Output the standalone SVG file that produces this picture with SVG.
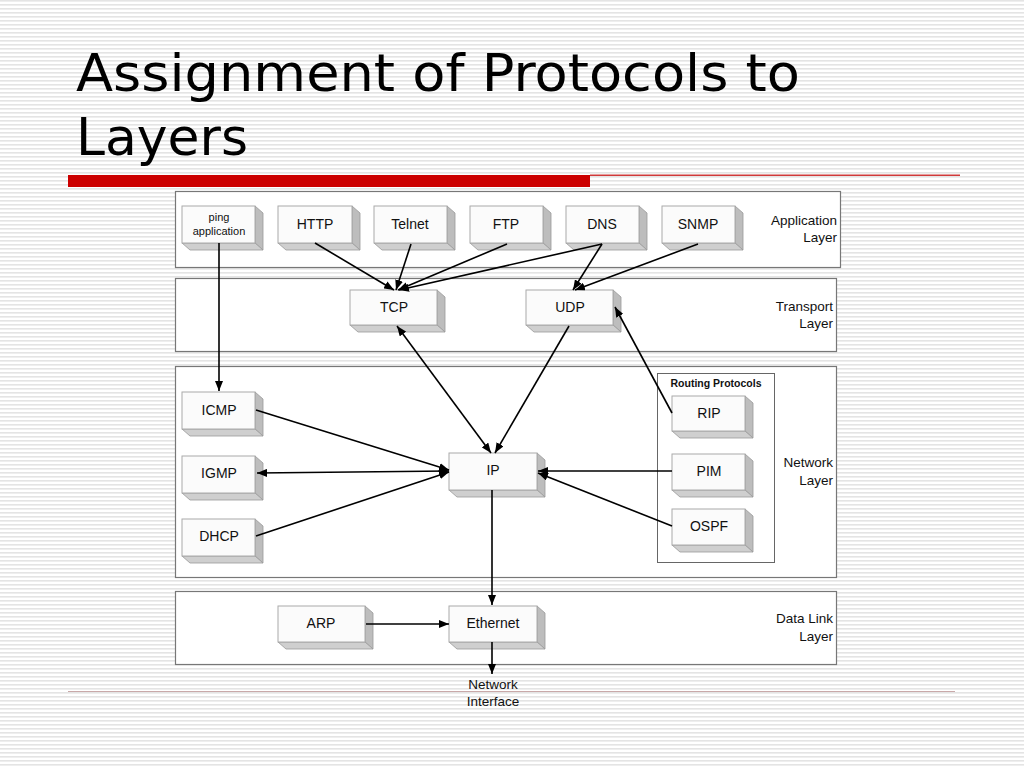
<svg xmlns="http://www.w3.org/2000/svg" width="1024" height="768" viewBox="0 0 1024 768">
<defs>
<pattern id="stripes" width="8" height="4" patternUnits="userSpaceOnUse">
<rect width="8" height="4" fill="#ffffff"/>
<rect y="0" width="8" height="1.6" fill="#e4e4e4"/>
</pattern>
<marker id="ah" viewBox="0 0 10 8" refX="10" refY="4" markerWidth="10" markerHeight="8" markerUnits="userSpaceOnUse" orient="auto-start-reverse">
<path d="M0,0 L10,4 L0,8 Z" fill="#000"/>
</marker>
<style>
.layer{fill:#fff;stroke:#777;stroke-width:1.2}
.front{fill:#fbfbfb;stroke:#aaa;stroke-width:1}
.side{fill:#bdbdbd;stroke:#999;stroke-width:0.8}
.bot{fill:#cfcfcf;stroke:#999;stroke-width:0.8}
.lbl{font-family:"Liberation Sans",Arial,sans-serif;font-size:14px;fill:#111;text-anchor:middle}
.small{font-size:11px}
.lay{font-family:"Liberation Sans",Arial,sans-serif;font-size:13.5px;fill:#111;text-anchor:end}
.title{font-family:"DejaVu Sans",Verdana,sans-serif;font-size:52px;fill:#000}
.con{stroke:#000;stroke-width:1.6;fill:none}
</style>
</defs>
<rect width="1024" height="768" fill="url(#stripes)"/>
<text class="title" x="76" y="91" textLength="724" lengthAdjust="spacingAndGlyphs">Assignment of Protocols to</text>
<text class="title" x="76" y="155">Layers</text>
<rect x="68" y="175" width="522" height="12" fill="#cc0000"/>
<rect x="590" y="174.5" width="370" height="1.5" fill="#d03a3a"/>
<line x1="68" y1="691.5" x2="955" y2="691.5" stroke="#c9a9a9" stroke-width="1"/>

<g id="layers">
<rect class="layer" x="175.5" y="191.5" width="665" height="76"/>
<rect class="layer" x="175.5" y="278.5" width="661" height="73"/>
<rect class="layer" x="175.5" y="366.5" width="661" height="211"/>
<rect class="layer" x="175.5" y="591.5" width="661" height="73"/>
<text class="lay" x="837" y="225">Application</text>
<text class="lay" x="837" y="242">Layer</text>
<text class="lay" x="833" y="311">Transport</text>
<text class="lay" x="833" y="328">Layer</text>
<text class="lay" x="833" y="467">Network</text>
<text class="lay" x="833" y="485">Layer</text>
<text class="lay" x="833" y="623">Data Link</text>
<text class="lay" x="833" y="641">Layer</text>
</g>

<g id="routing-protocols">
<rect x="657.5" y="373.5" width="117" height="189" fill="#fff" stroke="#666" stroke-width="1"/>
<text x="716" y="387" font-family="Liberation Sans,Arial,sans-serif" font-size="10.5" font-weight="bold" text-anchor="middle" fill="#111">Routing Protocols</text>
</g>

<g id="ping">
<polygon class="side" points="255,206 263,213 263,250 255,243"/>
<polygon class="bot" points="182,243 255,243 263,250 190,250"/>
<rect class="front" x="182" y="206" width="73" height="37"/>
<text class="lbl small" x="219" y="221">ping</text>
<text class="lbl small" x="219" y="235">application</text>
</g>
<g id="http">
<polygon class="side" points="352,206 360,213 360,250 352,243"/>
<polygon class="bot" points="278,243 352,243 360,250 286,250"/>
<rect class="front" x="278" y="206" width="74" height="37"/>
<text class="lbl" x="315" y="229">HTTP</text>
</g>
<g id="telnet">
<polygon class="side" points="447,206 455,213 455,250 447,243"/>
<polygon class="bot" points="374,243 447,243 455,250 382,250"/>
<rect class="front" x="374" y="206" width="73" height="37"/>
<text class="lbl" x="410" y="229">Telnet</text>
</g>
<g id="ftp">
<polygon class="side" points="543,206 551,213 551,250 543,243"/>
<polygon class="bot" points="470,243 543,243 551,250 478,250"/>
<rect class="front" x="470" y="206" width="73" height="37"/>
<text class="lbl" x="506" y="229">FTP</text>
</g>
<g id="dns">
<polygon class="side" points="639,206 647,213 647,250 639,243"/>
<polygon class="bot" points="566,243 639,243 647,250 574,250"/>
<rect class="front" x="566" y="206" width="73" height="37"/>
<text class="lbl" x="602" y="229">DNS</text>
</g>
<g id="snmp">
<polygon class="side" points="735,206 743,213 743,250 735,243"/>
<polygon class="bot" points="662,243 735,243 743,250 670,250"/>
<rect class="front" x="662" y="206" width="73" height="37"/>
<text class="lbl" x="698" y="229">SNMP</text>
</g>
<g id="tcp">
<polygon class="side" points="437,290 445,297 445,332 437,325"/>
<polygon class="bot" points="350,325 437,325 445,332 358,332"/>
<rect class="front" x="350" y="290" width="87" height="35"/>
<text class="lbl" x="394" y="312">TCP</text>
</g>
<g id="udp">
<polygon class="side" points="613,290 621,297 621,332 613,325"/>
<polygon class="bot" points="526,325 613,325 621,332 534,332"/>
<rect class="front" x="526" y="290" width="87" height="35"/>
<text class="lbl" x="570" y="312">UDP</text>
</g>
<g id="icmp">
<polygon class="side" points="255,392 263,399 263,436 255,429"/>
<polygon class="bot" points="182,429 255,429 263,436 190,436"/>
<rect class="front" x="182" y="392" width="73" height="37"/>
<text class="lbl" x="219" y="415">ICMP</text>
</g>
<g id="igmp">
<polygon class="side" points="255,456 263,463 263,500 255,493"/>
<polygon class="bot" points="182,493 255,493 263,500 190,500"/>
<rect class="front" x="182" y="456" width="73" height="37"/>
<text class="lbl" x="219" y="478">IGMP</text>
</g>
<g id="dhcp">
<polygon class="side" points="255,519 263,526 263,563 255,556"/>
<polygon class="bot" points="182,556 255,556 263,563 190,563"/>
<rect class="front" x="182" y="519" width="73" height="37"/>
<text class="lbl" x="219" y="541">DHCP</text>
</g>
<g id="ip">
<polygon class="side" points="537,453 545,460 545,497 537,490"/>
<polygon class="bot" points="449,490 537,490 545,497 457,497"/>
<rect class="front" x="449" y="453" width="88" height="37"/>
<text class="lbl" x="493" y="475">IP</text>
</g>
<g id="rip">
<polygon class="side" points="745,396 753,403 753,438 745,431"/>
<polygon class="bot" points="672,431 745,431 753,438 680,438"/>
<rect class="front" x="672" y="396" width="73" height="35"/>
<text class="lbl" x="709" y="418">RIP</text>
</g>
<g id="pim">
<polygon class="side" points="745,454 753,461 753,497 745,490"/>
<polygon class="bot" points="672,490 745,490 753,497 680,497"/>
<rect class="front" x="672" y="454" width="73" height="36"/>
<text class="lbl" x="709" y="476">PIM</text>
</g>
<g id="ospf">
<polygon class="side" points="745,509 753,516 753,552 745,545"/>
<polygon class="bot" points="672,545 745,545 753,552 680,552"/>
<rect class="front" x="672" y="509" width="73" height="36"/>
<text class="lbl" x="709" y="531">OSPF</text>
</g>
<g id="arp">
<polygon class="side" points="365,606 373,613 373,649 365,642"/>
<polygon class="bot" points="278,642 365,642 373,649 286,649"/>
<rect class="front" x="278" y="606" width="87" height="36"/>
<text class="lbl" x="321" y="628">ARP</text>
</g>
<g id="ethernet">
<polygon class="side" points="537,606 545,613 545,649 537,642"/>
<polygon class="bot" points="449,642 537,642 545,649 457,649"/>
<rect class="front" x="449" y="606" width="88" height="36"/>
<text class="lbl" x="493" y="628">Ethernet</text>
</g>
<g id="network-interface">
<text class="lay" x="493" y="689" style="text-anchor:middle">Network</text>
<text class="lay" x="493" y="706" style="text-anchor:middle">Interface</text>
</g>

<g id="connectors">
<line class="con" x1="219" y1="243" x2="219" y2="391" marker-end="url(#ah)"/>
<line class="con" x1="315" y1="243" x2="394" y2="290" marker-end="url(#ah)"/>
<line class="con" x1="411" y1="244" x2="396" y2="290" marker-end="url(#ah)"/>
<line class="con" x1="507" y1="244" x2="398" y2="290" marker-end="url(#ah)"/>
<line class="con" x1="602" y1="244" x2="399" y2="290" marker-end="url(#ah)"/>
<line class="con" x1="602" y1="244" x2="573" y2="290" marker-end="url(#ah)"/>
<line class="con" x1="698" y1="244" x2="575" y2="290" marker-end="url(#ah)"/>
<line class="con" x1="397" y1="326" x2="491" y2="453" marker-start="url(#ah)" marker-end="url(#ah)"/>
<line class="con" x1="569" y1="326" x2="495" y2="453" marker-end="url(#ah)"/>
<line class="con" x1="672" y1="413" x2="615" y2="307" marker-end="url(#ah)"/>
<line class="con" x1="672" y1="471" x2="538" y2="471" marker-end="url(#ah)"/>
<line class="con" x1="672" y1="526" x2="538" y2="473" marker-end="url(#ah)"/>
<line class="con" x1="256" y1="410" x2="449" y2="470" marker-end="url(#ah)"/>
<line class="con" x1="257" y1="473" x2="449" y2="471" marker-start="url(#ah)" marker-end="url(#ah)"/>
<line class="con" x1="256" y1="536" x2="449" y2="472" marker-end="url(#ah)"/>
<line class="con" x1="492" y1="490" x2="492" y2="605" marker-end="url(#ah)"/>
<line class="con" x1="366" y1="624" x2="449" y2="624" marker-end="url(#ah)"/>
<line class="con" x1="492" y1="642" x2="492" y2="674" marker-end="url(#ah)"/>
</g>
</svg>
